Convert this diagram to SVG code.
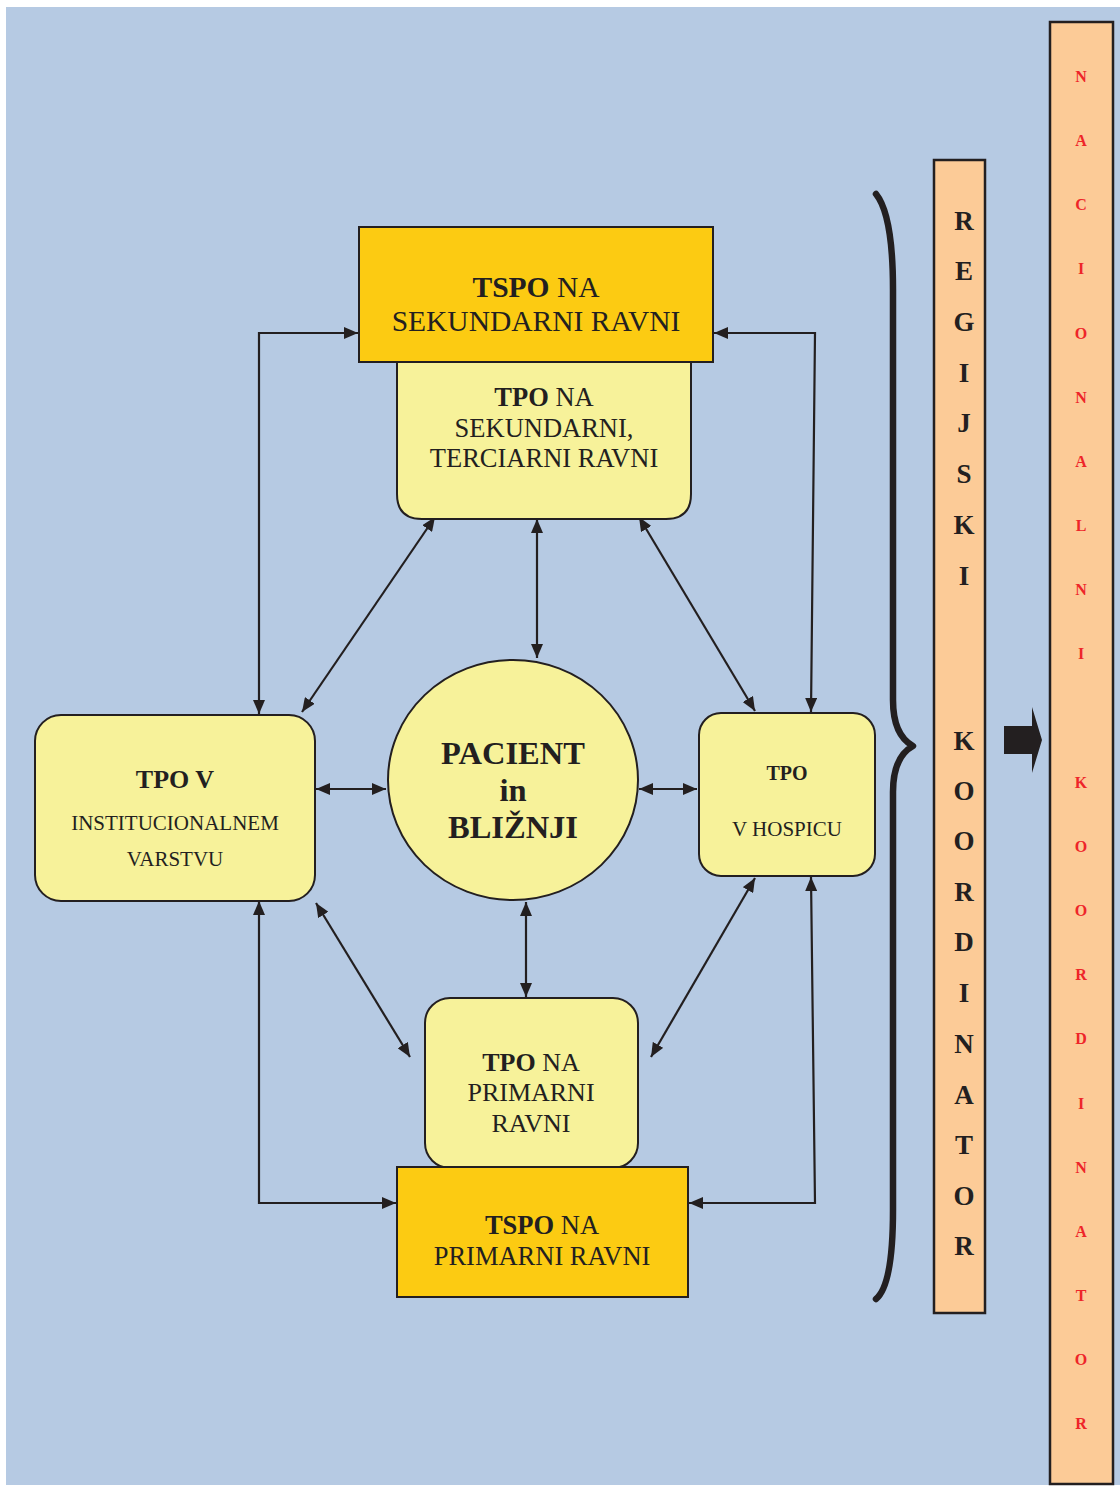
<svg xmlns="http://www.w3.org/2000/svg" width="1120" height="1486" viewBox="0 0 1120 1486">
<defs>
<marker id="ah" viewBox="0 0 14 12" refX="14" refY="6" markerWidth="14" markerHeight="12" markerUnits="userSpaceOnUse" orient="auto-start-reverse">
<path d="M0,0 L14,6 L0,12 z" fill="#231F20"/>
</marker>
<style>
.conn{stroke:#231F20;stroke-width:2.2;fill:none}
.arr{marker-start:url(#ah);marker-end:url(#ah)}
.gold{fill:#FCCB12;stroke:#231F20;stroke-width:2}
.pale{fill:#F7F29A;stroke:#231F20;stroke-width:2}
.bar{fill:#FCCB97;stroke:#231F20;stroke-width:2.5}
text{font-family:"Liberation Serif","Times New Roman",serif;fill:#231F20;text-anchor:middle}
.b{font-weight:bold}
.reg{font-size:27px;font-weight:bold}
.nat{font-size:16px;font-weight:bold;fill:#EE2529}
</style>
</defs>
<rect x="6" y="7" width="1114" height="1478" fill="#B6CAE3"/>

<g id="connectors">
<polyline class="conn arr" points="259,714 259,333 358,333"/>
<polyline class="conn arr" points="811,712 815,333 714,333"/>
<polyline class="conn arr" points="259,901 259,1203 396,1203"/>
<polyline class="conn arr" points="811,877 815,1203 689,1203"/>
<line class="conn arr" x1="435" y1="517" x2="302" y2="712"/>
<line class="conn arr" x1="537" y1="519" x2="537" y2="658"/>
<line class="conn arr" x1="639" y1="517" x2="755" y2="711"/>
<line class="conn arr" x1="316" y1="789" x2="386" y2="789"/>
<line class="conn arr" x1="639" y1="789" x2="697" y2="789"/>
<line class="conn arr" x1="526" y1="902" x2="526" y2="997"/>
<line class="conn arr" x1="316" y1="903" x2="410" y2="1057"/>
<line class="conn arr" x1="755" y1="878" x2="651" y2="1057"/>
</g>

<g id="tpo-sekundarni">
<path class="pale" d="M397,362 L691,362 L691,494 Q691,519 666,519 L422,519 Q397,519 397,494 Z"/>
<text x="544" y="406" font-size="26.5"><tspan class="b">TPO</tspan> NA</text>
<text x="544" y="437" font-size="26.5">SEKUNDARNI,</text>
<text x="544" y="467" font-size="26.5">TERCIARNI RAVNI</text>
</g>

<g id="tspo-sekundarni">
<rect class="gold" x="359" y="227" width="354" height="135"/>
<text x="536" y="297" font-size="29.5"><tspan class="b">TSPO</tspan> NA</text>
<text x="536" y="331" font-size="29.5">SEKUNDARNI RAVNI</text>
</g>

<g id="tpo-institucionalnem">
<rect class="pale" x="35" y="715" width="280" height="186" rx="26" ry="26"/>
<text x="175" y="788" font-size="26" class="b">TPO V</text>
<text x="175" y="830" font-size="21">INSTITUCIONALNEM</text>
<text x="175" y="866" font-size="21">VARSTVU</text>
</g>

<g id="pacient">
<ellipse class="pale" cx="513" cy="780" rx="125" ry="120"/>
<text x="513" y="764" font-size="32.5" class="b">PACIENT</text>
<text x="513" y="801" font-size="32.5" class="b">in</text>
<text x="513" y="838" font-size="32.5" class="b">BLIŽNJI</text>
</g>

<g id="tpo-hospic">
<rect class="pale" x="699" y="713" width="176" height="163" rx="22" ry="22"/>
<text x="787" y="780" font-size="20" class="b">TPO</text>
<text x="787" y="836" font-size="21">V HOSPICU</text>
</g>

<g id="tpo-primarni">
<rect class="pale" x="425" y="998" width="213" height="170" rx="25" ry="25"/>
<text x="531" y="1071" font-size="26"><tspan class="b">TPO</tspan> NA</text>
<text x="531" y="1101" font-size="26">PRIMARNI</text>
<text x="531" y="1132" font-size="26">RAVNI</text>
</g>

<g id="tspo-primarni">
<rect class="gold" x="397" y="1167" width="291" height="130"/>
<text x="542" y="1234" font-size="26.5"><tspan class="b">TSPO</tspan> NA</text>
<text x="542" y="1265" font-size="26.5">PRIMARNI RAVNI</text>
</g>

<g id="brace">
<path d="M876,194 Q893,215 893,290 L893,700 Q893,735 913,746 Q893,757 893,792 L893,1210 Q893,1285 876,1299" fill="none" stroke="#231F20" stroke-width="6.5" stroke-linecap="round" stroke-linejoin="round"/>
</g>

<g id="regijski-koordinator">
<rect class="bar" x="934" y="160" width="51" height="1153"/>
<text class="reg" x="964" y="230">R</text>
<text class="reg" x="964" y="280">E</text>
<text class="reg" x="964" y="331">G</text>
<text class="reg" x="964" y="382">I</text>
<text class="reg" x="964" y="432">J</text>
<text class="reg" x="964" y="483">S</text>
<text class="reg" x="964" y="534">K</text>
<text class="reg" x="964" y="585">I</text>
<text class="reg" x="964" y="750">K</text>
<text class="reg" x="964" y="800">O</text>
<text class="reg" x="964" y="850">O</text>
<text class="reg" x="964" y="901">R</text>
<text class="reg" x="964" y="951">D</text>
<text class="reg" x="964" y="1002">I</text>
<text class="reg" x="964" y="1053">N</text>
<text class="reg" x="964" y="1104">A</text>
<text class="reg" x="964" y="1154">T</text>
<text class="reg" x="964" y="1205">O</text>
<text class="reg" x="964" y="1255">R</text>
</g>

<g id="arrow-right">
<path d="M1004,726 L1032,726 L1032,707 L1042,740 L1032,773 L1032,754 L1004,754 Z" fill="#231F20"/>
</g>

<g id="nacionalni-koordinator">
<rect class="bar" x="1050" y="22" width="63" height="1462"/>
<text class="nat" x="1081" y="82">N</text>
<text class="nat" x="1081" y="146">A</text>
<text class="nat" x="1081" y="210">C</text>
<text class="nat" x="1081" y="274">I</text>
<text class="nat" x="1081" y="339">O</text>
<text class="nat" x="1081" y="403">N</text>
<text class="nat" x="1081" y="467">A</text>
<text class="nat" x="1081" y="531">L</text>
<text class="nat" x="1081" y="595">N</text>
<text class="nat" x="1081" y="659">I</text>
<text class="nat" x="1081" y="788">K</text>
<text class="nat" x="1081" y="852">O</text>
<text class="nat" x="1081" y="916">O</text>
<text class="nat" x="1081" y="980">R</text>
<text class="nat" x="1081" y="1044">D</text>
<text class="nat" x="1081" y="1109">I</text>
<text class="nat" x="1081" y="1173">N</text>
<text class="nat" x="1081" y="1237">A</text>
<text class="nat" x="1081" y="1301">T</text>
<text class="nat" x="1081" y="1365">O</text>
<text class="nat" x="1081" y="1429">R</text>
</g>
</svg>
